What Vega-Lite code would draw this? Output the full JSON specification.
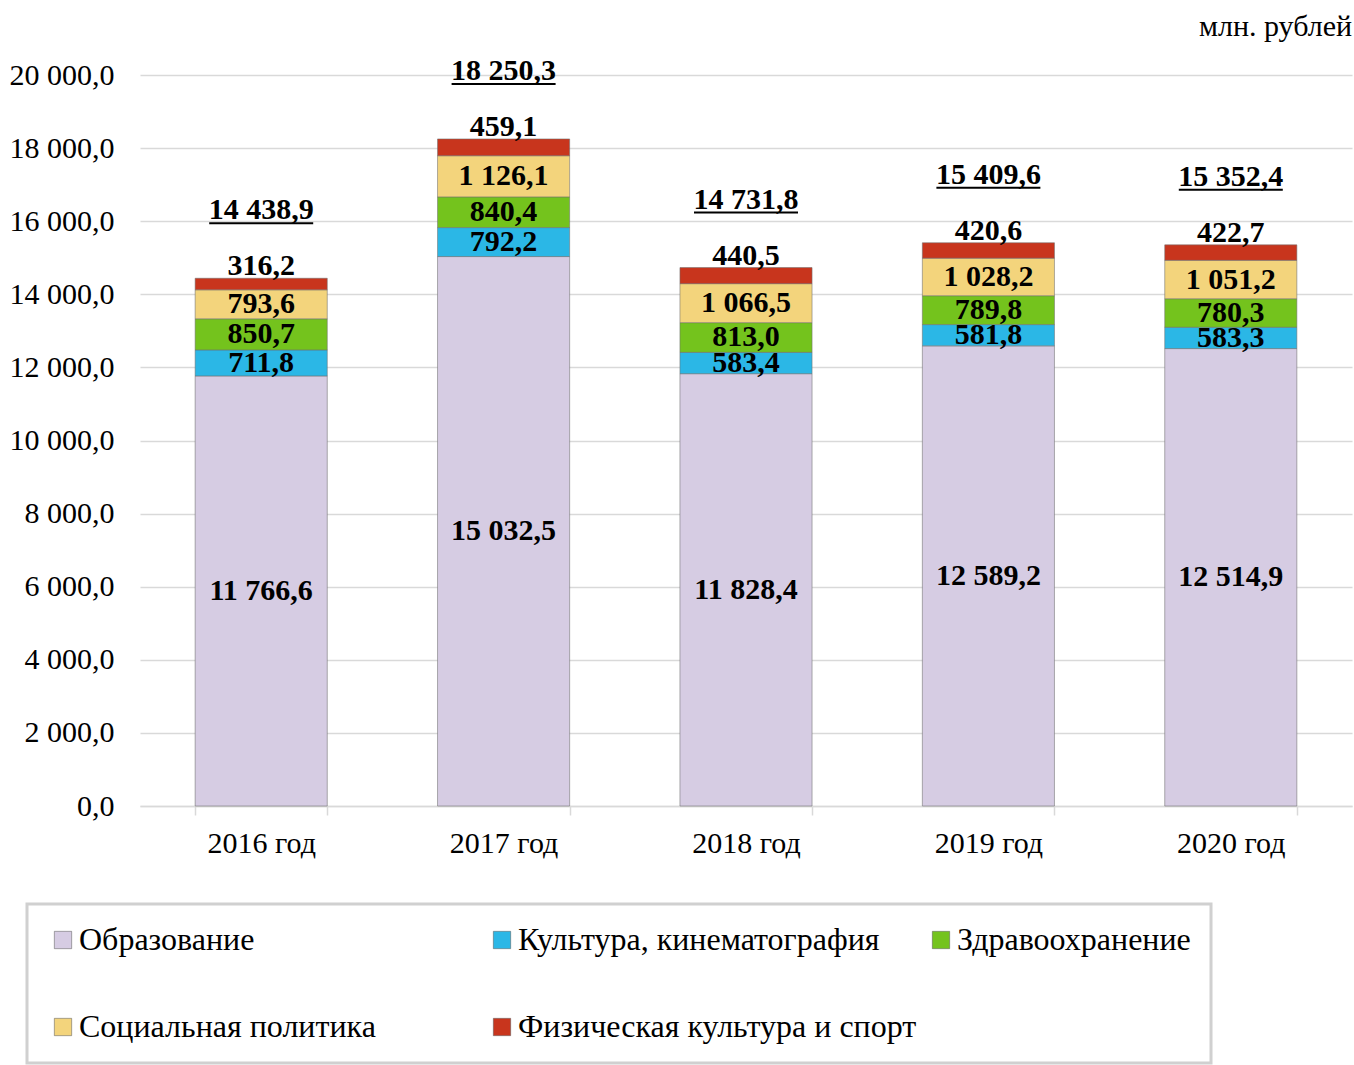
{
  "$schema": "https://vega.github.io/schema/vega-lite/v6.json",
  "width": 1212,
  "height": 731,
  "autosize": {"type": "none"},
  "padding": {"left": 140, "top": 75, "right": 2, "bottom": 259},
  "background": "white",
  "title": {"text": "млн. рублей", "anchor": "end", "orient": "top", "frame": "group", "font": "Liberation Serif", "fontSize": 30, "fontWeight": "normal", "color": "#000000", "offset": 14},
  "datasets": {
    "spend": [
      {"year": "2016 год", "cat": "Образование", "k": 1, "value": 11766.6},
      {"year": "2016 год", "cat": "Культура, кинематография", "k": 2, "value": 711.8},
      {"year": "2016 год", "cat": "Здравоохранение", "k": 3, "value": 850.7},
      {"year": "2016 год", "cat": "Социальная политика", "k": 4, "value": 793.6},
      {"year": "2016 год", "cat": "Физическая культура и спорт", "k": 5, "value": 316.2},
      {"year": "2017 год", "cat": "Образование", "k": 1, "value": 15032.5},
      {"year": "2017 год", "cat": "Культура, кинематография", "k": 2, "value": 792.2},
      {"year": "2017 год", "cat": "Здравоохранение", "k": 3, "value": 840.4},
      {"year": "2017 год", "cat": "Социальная политика", "k": 4, "value": 1126.1},
      {"year": "2017 год", "cat": "Физическая культура и спорт", "k": 5, "value": 459.1},
      {"year": "2018 год", "cat": "Образование", "k": 1, "value": 11828.4},
      {"year": "2018 год", "cat": "Культура, кинематография", "k": 2, "value": 583.4},
      {"year": "2018 год", "cat": "Здравоохранение", "k": 3, "value": 813.0},
      {"year": "2018 год", "cat": "Социальная политика", "k": 4, "value": 1066.5},
      {"year": "2018 год", "cat": "Физическая культура и спорт", "k": 5, "value": 440.5},
      {"year": "2019 год", "cat": "Образование", "k": 1, "value": 12589.2},
      {"year": "2019 год", "cat": "Культура, кинематография", "k": 2, "value": 581.8},
      {"year": "2019 год", "cat": "Здравоохранение", "k": 3, "value": 789.8},
      {"year": "2019 год", "cat": "Социальная политика", "k": 4, "value": 1028.2},
      {"year": "2019 год", "cat": "Физическая культура и спорт", "k": 5, "value": 420.6},
      {"year": "2020 год", "cat": "Образование", "k": 1, "value": 12514.9},
      {"year": "2020 год", "cat": "Культура, кинематография", "k": 2, "value": 583.3},
      {"year": "2020 год", "cat": "Здравоохранение", "k": 3, "value": 780.3},
      {"year": "2020 год", "cat": "Социальная политика", "k": 4, "value": 1051.2},
      {"year": "2020 год", "cat": "Физическая культура и спорт", "k": 5, "value": 422.7}
    ],
    "totals": [
      {"year": "2016 год", "total": 14438.9},
      {"year": "2017 год", "total": 18250.3},
      {"year": "2018 год", "total": 14731.8},
      {"year": "2019 год", "total": 15409.6},
      {"year": "2020 год", "total": 15352.4}
    ]
  },
  "encoding": {
    "x": {
      "field": "year", "type": "nominal",
      "scale": {"paddingInner": 0.455, "paddingOuter": 0.2275},
      "axis": {"title": null, "labelAngle": 0, "domainColor": "#d9d9d9", "domainWidth": 1.5, "tickColor": "#d9d9d9", "tickWidth": 1.5, "tickSize": 9, "tickBand": "extent", "labelPadding": 13, "labelFont": "Liberation Serif", "labelFontSize": 30, "labelColor": "#000000"}
    }
  },
  "layer": [
    {
      "data": {"name": "spend"},
      "transform": [
        {"stack": "value", "groupby": ["year"], "sort": [{"field": "k", "order": "ascending"}], "as": ["y0", "y1"]}
      ],
      "mark": {"type": "bar", "stroke": "#6f6f6f", "strokeWidth": 0.8, "strokeOpacity": 0.7},
      "encoding": {
        "y": {
          "field": "y0", "type": "quantitative",
          "scale": {"domain": [0, 20000], "nice": false},
          "axis": {"title": null, "format": ",.1f", "values": [0, 2000, 4000, 6000, 8000, 10000, 12000, 14000, 16000, 18000, 20000], "domain": false, "ticks": false, "grid": true, "gridColor": "#d9d9d9", "gridWidth": 1.5, "labelPadding": 26, "labelFont": "Liberation Serif", "labelFontSize": 30, "labelColor": "#000000"}
        },
        "y2": {"field": "y1"},
        "color": {
          "field": "cat", "type": "nominal",
          "scale": {
            "domain": ["Образование", "Культура, кинематография", "Здравоохранение", "Социальная политика", "Физическая культура и спорт"],
            "range": ["#d6cce3", "#2bb7e6", "#74c31d", "#f3d47c", "#c8351d"]
          },
          "legend": {
            "title": null, "orient": "none", "legendX": -113, "legendY": 829, "direction": "horizontal", "columns": 3,
            "gridAlign": "all", "columnPadding": 8, "rowPadding": 55, "padding": 20,
            "symbolType": "square", "symbolSize": 300, "symbolStrokeWidth": 0.5, "symbolStrokeColor": "#555555", "labelOffset": 0,
            "labelFont": "Liberation Serif", "labelFontSize": 32, "labelColor": "#000000", "labelLimit": 600,
            "fillColor": "#ffffff", "strokeColor": "#d0d0d0"
          }
        }
      }
    },
    {
      "data": {"name": "spend"},
      "transform": [
        {"stack": "value", "groupby": ["year"], "sort": [{"field": "k", "order": "ascending"}], "as": ["y0", "y1"]},
        {"filter": "datum.k < 5"},
        {"calculate": "(datum.y0 + datum.y1) / 2", "as": "mid"}
      ],
      "mark": {"type": "text", "font": "Liberation Serif", "fontSize": 30, "fontWeight": "bold", "color": "#000000", "baseline": "middle"},
      "encoding": {
        "y": {"field": "mid", "type": "quantitative"},
        "text": {"field": "value", "type": "quantitative", "format": ",.1f"}
      }
    },
    {
      "data": {"name": "spend"},
      "transform": [
        {"stack": "value", "groupby": ["year"], "sort": [{"field": "k", "order": "ascending"}], "as": ["y0", "y1"]},
        {"filter": "datum.k == 5"}
      ],
      "mark": {"type": "text", "font": "Liberation Serif", "fontSize": 30, "fontWeight": "bold", "color": "#000000", "baseline": "alphabetic", "dy": -3},
      "encoding": {
        "y": {"field": "y1", "type": "quantitative"},
        "text": {"field": "value", "type": "quantitative", "format": ",.1f"}
      }
    },
    {
      "data": {"name": "totals"},
      "mark": {"type": "text", "font": "Liberation Serif", "fontSize": 30, "fontWeight": "bold", "color": "#000000", "baseline": "alphabetic", "dy": -59},
      "encoding": {
        "y": {"field": "total", "type": "quantitative"},
        "text": {"field": "total", "type": "quantitative", "format": ",.1f"}
      }
    },
    {
      "data": {"name": "totals"},
      "mark": {"type": "tick", "orient": "horizontal", "size": 104, "thickness": 2, "color": "#000000", "opacity": 1, "yOffset": -55},
      "encoding": {
        "y": {"field": "total", "type": "quantitative"}
      }
    }
  ],
  "config": {
    "view": {"stroke": null},
    "locale": {"number": {"decimal": ",", "thousands": " ", "grouping": [3], "currency": ["", ""]}},
    "legend": {"strokeWidth": 3}
  }
}
